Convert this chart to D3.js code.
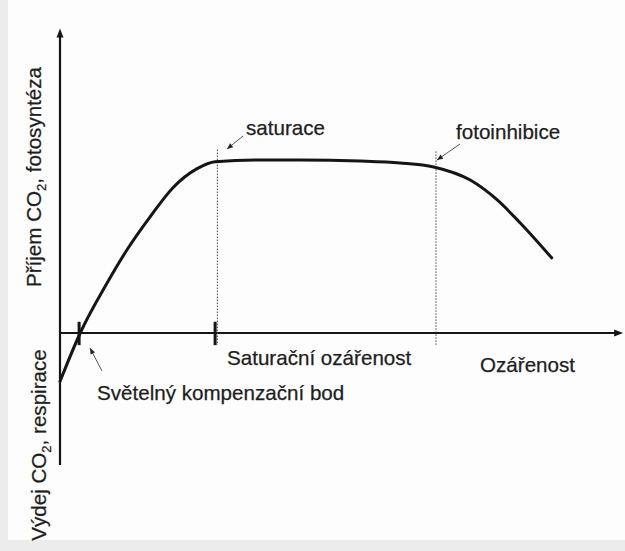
<!DOCTYPE html>
<html>
<head>
<meta charset="utf-8">
<script src="https://cdn.jsdelivr.net/npm/d3@7"></script>
<style>
  html, body { margin: 0; padding: 0; background: #ececec; }
  svg { display: block; font-family: "Liberation Sans", Arial, sans-serif; }
</style>
</head>
<body>
<div class="svg-content"></div>
<script>
// light curve of photosynthesis (irradiance vs CO2 exchange)
const irradiance = [0, 3.6, 8.4, 11.9, 16.0, 20.1, 24.4, 27.6, 35.6, 42.7, 53.4, 60.5, 66.5, 73.0, 77.8, 81.9, 87.5];
const co2Exchange = [-0.28, 0, 0.29, 0.48, 0.67, 0.84, 0.95, 0.99, 1.0, 1.0, 0.994, 0.983, 0.96, 0.884, 0.769, 0.636, 0.434];

const compensationPoint = 3.4;
const saturationPoint = 28.0;
const inhibitionPoint = 66.9;

const yAxisLabelTop = ["Příjem CO", "2", ", fotosyntéza"];
const yAxisLabelBottom = ["Výdej CO", "2", ", respirace"];
const xAxisLabel = "Ozářenost";
const saturationTickLabel = "Saturační ozářenost";
const compensationLabel = "Světelný kompenzační bod";
const saturationLabel = "saturace";
const inhibitionLabel = "fotoinhibice";

const svgWidth = 625;
const svgHeight = 551;

const xScale = d3.scaleLinear().domain([0, 100]).range([60, 622]);
const yScale = d3.scaleLinear().domain([0, 1]).range([333, 160]);

let svg = d3.select(".svg-content")
            .append("svg")
            .attr("width", svgWidth)
            .attr("height", svgHeight);

// paper
svg.append("rect")
   .attr("x", 8).attr("y", 0)
   .attr("width", svgWidth - 8).attr("height", 540)
   .attr("fill", "#fdfdfd");

const ink = "#151515";

// axes
svg.append("line")
   .attr("x1", xScale(0)).attr("x2", xScale(0))
   .attr("y1", yScale(-0.763)).attr("y2", yScale(1.72))
   .attr("stroke", ink).attr("stroke-width", 2.2);
svg.append("path")
   .attr("d", `M${xScale(0)},${yScale(1.76)} l-3.5,9 l7,0 z`)
   .attr("fill", ink);

svg.append("line")
   .attr("x1", xScale(0)).attr("x2", xScale(99))
   .attr("y1", yScale(0)).attr("y2", yScale(0))
   .attr("stroke", ink).attr("stroke-width", 2.2);
svg.append("path")
   .attr("d", `M${xScale(100.2)},${yScale(0)} l-9,-3.5 l0,7 z`)
   .attr("fill", ink);

// dotted guides
[[saturationPoint, 1.06], [inhibitionPoint, 1.05]].forEach(([v, top]) => {
  svg.append("line")
     .attr("x1", xScale(v)).attr("x2", xScale(v))
     .attr("y1", yScale(top)).attr("y2", yScale(-0.07))
     .attr("stroke", "#444").attr("stroke-width", 1)
     .attr("stroke-dasharray", "1.5,1.5");
});

// ticks on x axis
[compensationPoint, saturationPoint - 0.4].forEach(v => {
  svg.append("line")
     .attr("x1", xScale(v)).attr("x2", xScale(v))
     .attr("y1", yScale(0.065)).attr("y2", yScale(-0.07))
     .attr("stroke", ink).attr("stroke-width", 3);
});

// curve
const line = d3.line()
               .x((d, i) => xScale(irradiance[i]))
               .y(d => yScale(d))
               .curve(d3.curveMonotoneX);

svg.append("path")
   .datum(co2Exchange)
   .attr("d", line)
   .attr("fill", "none")
   .attr("stroke", ink)
   .attr("stroke-width", 3)
   .attr("stroke-linecap", "round");

// annotation arrows
function arrow(x1, y1, x2, y2) {
  svg.append("line")
     .attr("x1", x1).attr("y1", y1).attr("x2", x2).attr("y2", y2)
     .attr("stroke", "#555").attr("stroke-width", 1);
  const a = Math.atan2(y2 - y1, x2 - x1);
  const l = 6, w = 2.5;
  const bx = x2 - l * Math.cos(a), by = y2 - l * Math.sin(a);
  const px = -Math.sin(a) * w, py = Math.cos(a) * w;
  svg.append("path")
     .attr("d", `M${x2},${y2} L${bx + px},${by + py} L${bx - px},${by - py} Z`)
     .attr("fill", "#222");
}
arrow(243, 136, 227, 149);
arrow(460, 144, 437, 160);
arrow(102, 371, 90, 348);

// text
const textColor = "#1e1e1e";
function label(txt, x, yy) {
  svg.append("text")
     .attr("x", x).attr("y", yy)
     .attr("font-size", 20.6)
     .attr("fill", textColor)
     .attr("stroke", textColor)
     .attr("stroke-width", 0.25)
     .text(txt);
}
label(saturationLabel, 246, 135);
label(inhibitionLabel, 456, 139);
label(saturationTickLabel, 227, 365);
label(xAxisLabel, 480, 372);
label(compensationLabel, 97, 400);

function yLabel(parts, cx, cy) {
  const t = svg.append("text")
     .attr("transform", `translate(${cx},${cy}) rotate(-90)`)
     .attr("text-anchor", "middle")
     .attr("font-size", 20.6)
     .attr("fill", textColor)
     .attr("stroke", textColor)
     .attr("stroke-width", 0.25);
  t.append("tspan").text(parts[0]);
  t.append("tspan").attr("font-size", 13).attr("dy", 5).text(parts[1]);
  t.append("tspan").attr("dy", -5).text(parts[2]);
}
yLabel(yAxisLabelTop, 41, 177);
yLabel(yAxisLabelBottom, 46, 445);
</script>
</body>
</html>
